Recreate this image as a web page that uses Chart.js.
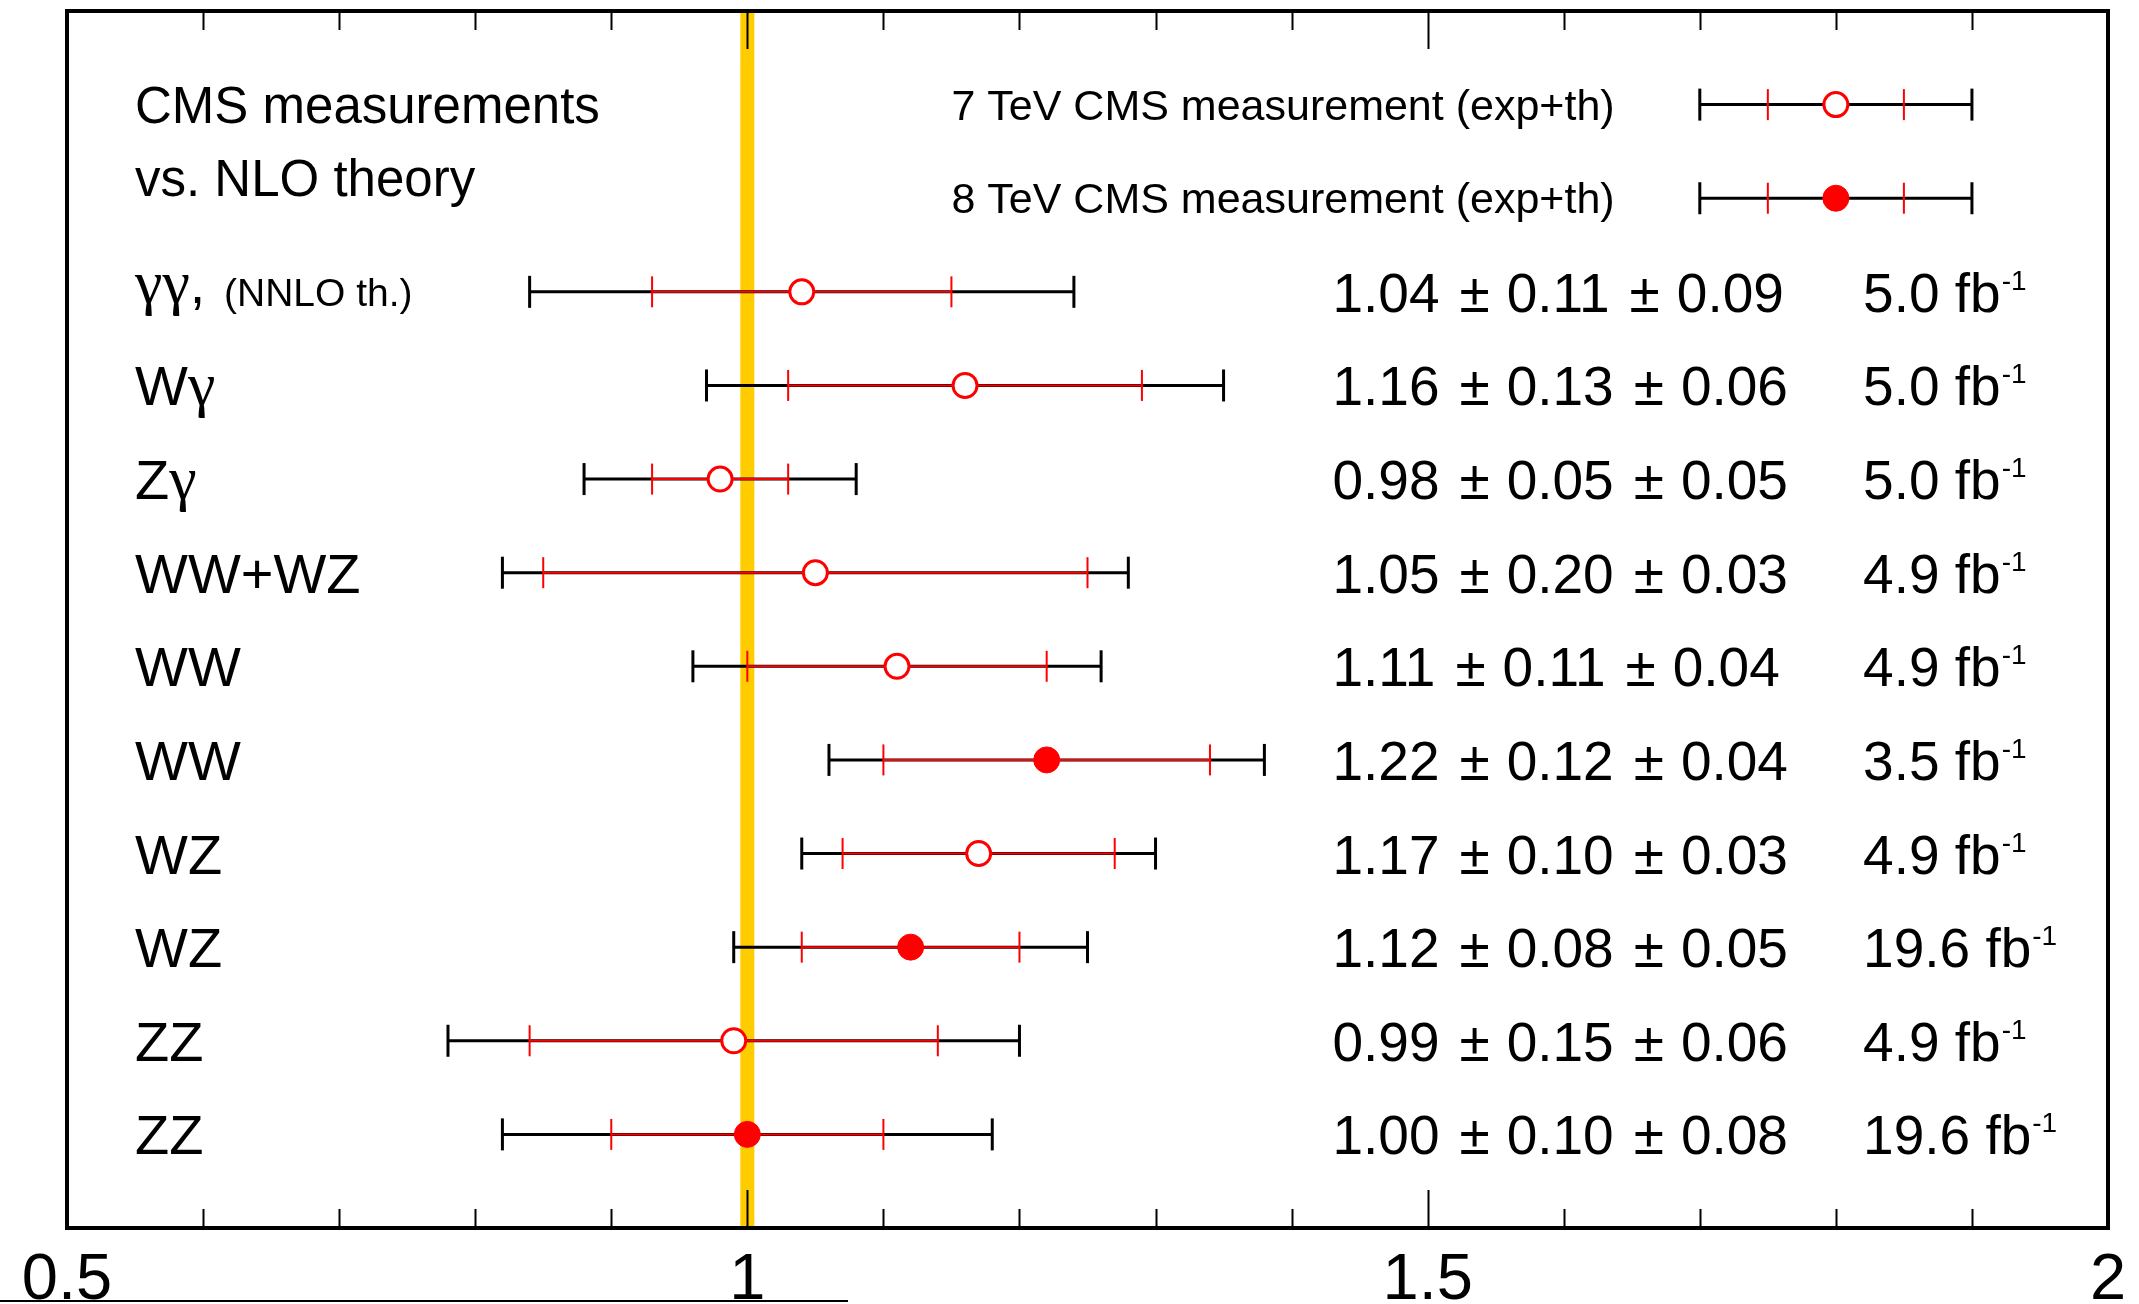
<!DOCTYPE html>
<html>
<head>
<meta charset="utf-8">
<title>CMS measurements vs. NLO theory</title>
<script src="https://cdn.jsdelivr.net/npm/chart.js@4/dist/chart.umd.min.js"></script>
<style>
  html, body { margin: 0; padding: 0; background: #fff; overflow: hidden; }
  #wrap { position: relative; width: 2139px; height: 1304px; }
</style>
</head>
<body>
<div id="wrap"><canvas id="chart"></canvas></div>
<script>
// ratio of measured cross section to theory, rows from top to bottom
const processes = ['γγ,', 'Wγ', 'Zγ', 'WW+WZ', 'WW', 'WW', 'WZ', 'WZ', 'ZZ', 'ZZ'];
const notes = ['(NNLO th.)', '', '', '', '', '', '', '', '', ''];
const energies = [7, 7, 7, 7, 7, 8, 7, 8, 7, 8];
const ratios = [1.04, 1.16, 0.98, 1.05, 1.11, 1.22, 1.17, 1.12, 0.99, 1.00];
const expErrors = [0.11, 0.13, 0.05, 0.20, 0.11, 0.12, 0.10, 0.08, 0.15, 0.10];
const thErrors = [0.09, 0.06, 0.05, 0.03, 0.04, 0.04, 0.03, 0.05, 0.06, 0.08];
const lumis = ['5.0', '5.0', '5.0', '4.9', '4.9', '3.5', '4.9', '19.6', '4.9', '19.6'];

// legend entries and their sample error bars
const legendLabels = ['7 TeV CMS measurement (exp+th)', '8 TeV CMS measurement (exp+th)'];
const legendEnergies = [7, 8];
const legendCentre = 1.8;
const legendExp = 0.05;
const legendTotal = 0.1;

const xTickLabels = ['0.5', '1', '1.5', '2'];
const theoryRatio = 1;

const SANS = '"Liberation Sans", Arial, Helvetica, sans-serif';
const SERIF = '"Liberation Serif", "Times New Roman", serif';
const RED = '#ff0000';
const BAND = 'rgb(255, 204, 0)';

// legend rows sit at 0 and 1, measurements start at 2
const rowOf = i => i + legendLabels.length;

const totalBars = [];
const expBars = [];
const legendExpCaps = [];
const open7 = [];
const filled8 = [];

legendLabels.forEach((label, r) => {
  totalBars.push({x: legendCentre - legendTotal, y: r}, {x: legendCentre + legendTotal, y: r}, {x: legendCentre, y: null});
  legendExpCaps.push({x: legendCentre - legendExp, y: r}, {x: legendCentre + legendExp, y: r});
  (legendEnergies[r] === 7 ? open7 : filled8).push({x: legendCentre, y: r});
});

ratios.forEach((c, i) => {
  const r = rowOf(i);
  const tot = expErrors[i] + thErrors[i];
  totalBars.push({x: c - tot, y: r}, {x: c + tot, y: r}, {x: c, y: null});
  expBars.push({x: c - expErrors[i], y: r}, {x: c + expErrors[i], y: r}, {x: c, y: null});
  (energies[i] === 7 ? open7 : filled8).push({x: c, y: r});
});

const isMajor = v => Math.abs(v * 2 - Math.round(v * 2)) < 1e-6;

// draws text, switching to a serif face for greek letters
function drawMixed(ctx, text, x, y, size) {
  for (const ch of text) {
    const greek = /[\u0370-\u03ff]/.test(ch);
    ctx.font = greek ? `${Math.round(size * 1.1)}px ${SERIF}` : `${size}px ${SANS}`;
    ctx.fillText(ch, x, y);
    x += ctx.measureText(ch).width;
  }
  return x;
}

// "a ± b ± c" with the wider gaps around the ± signs
function drawValue(ctx, parts, x, y) {
  parts.forEach((p, k) => {
    if (k > 0) {
      x += 20;
      ctx.fillText('±', x, y);
      x += ctx.measureText('±').width + 17;
    }
    ctx.fillText(p, x, y);
    x += ctx.measureText(p).width;
  });
}

const decor = {
  id: 'decor',
  afterDraw(chart) {
    const {ctx, chartArea: a, scales: {x, y}} = chart;
    ctx.save();
    ctx.strokeStyle = '#000';
    ctx.fillStyle = '#000';

    // ticks pointing into the frame, top and bottom
    ctx.lineWidth = 2;
    x.ticks.forEach(t => {
      if (t.value <= x.min + 1e-6 || t.value >= x.max - 1e-6) return;
      const px = Math.round(x.getPixelForValue(t.value)) + 0.5;
      const len = isMajor(t.value) ? 38 : 19;
      ctx.beginPath();
      ctx.moveTo(px, a.bottom);
      ctx.lineTo(px, a.bottom - len);
      ctx.moveTo(px, a.top);
      ctx.lineTo(px, a.top + len);
      ctx.stroke();
    });

    ctx.lineWidth = 4;
    ctx.strokeRect(a.left, a.top, a.right - a.left, a.bottom - a.top);

    // axis numbers under the frame
    ctx.font = `65px ${SANS}`;
    ctx.textAlign = 'center';
    ctx.textBaseline = 'alphabetic';
    xTickLabels.forEach(s => {
      ctx.fillText(s, x.getPixelForValue(parseFloat(s)), a.bottom + 71);
    });

    // rule under the left axis labels
    ctx.lineWidth = 2;
    ctx.beginPath();
    ctx.moveTo(0, 1301);
    ctx.lineTo(848, 1301);
    ctx.stroke();

    ctx.textAlign = 'left';
    const labelX = x.getPixelForValue(0.55);

    ctx.font = `51px ${SANS}`;
    ctx.fillText('CMS measurements', labelX, y.getPixelForValue(0) + 18);
    ctx.fillText('vs. NLO theory', labelX, y.getPixelForValue(0.78) + 18);

    ctx.font = `43px ${SANS}`;
    legendLabels.forEach((label, r) => {
      ctx.fillText(label, x.getPixelForValue(1.15), y.getPixelForValue(r) + 15);
    });

    const valueX = x.getPixelForValue(1.43);
    const lumiX = x.getPixelForValue(1.82);
    processes.forEach((name, i) => {
      const py = y.getPixelForValue(rowOf(i));
      // the row carrying a note is set a little higher
      drawMixed(ctx, name, labelX, py + (notes[i] ? 11 : 20), 56);
      if (notes[i]) {
        ctx.font = `39px ${SANS}`;
        ctx.fillText(notes[i], labelX + 89, py + 14);
      }
      ctx.font = `55px ${SANS}`;
      drawValue(ctx, [ratios[i], expErrors[i], thErrors[i]].map(v => v.toFixed(2)), valueX, py + 20);
      const lumi = `${lumis[i]} fb`;
      ctx.fillText(lumi, lumiX, py + 20);
      const w = ctx.measureText(lumi).width;
      ctx.font = `28px ${SANS}`;
      ctx.fillText('-1', lumiX + w + 1, py - 2);
    });
    ctx.restore();
  }
};

new Chart(document.getElementById('chart'), {
  type: 'scatter',
  data: {
    datasets: [
      {
        label: '8 TeV',
        data: filled8,
        order: 1,
        pointStyle: 'circle',
        pointRadius: 13,
        pointBackgroundColor: RED,
        pointBorderColor: RED,
        pointBorderWidth: 1,
      },
      {
        label: '7 TeV',
        data: open7,
        order: 1,
        pointStyle: 'circle',
        pointRadius: 12,
        pointBackgroundColor: '#fff',
        pointBorderColor: RED,
        pointBorderWidth: 3,
      },
      {
        label: 'legend exp caps',
        data: legendExpCaps,
        order: 2,
        pointStyle: 'line',
        pointRotation: 90,
        pointRadius: 15.5,
        pointBorderColor: RED,
        pointBorderWidth: 2,
      },
      {
        label: 'exp',
        data: expBars,
        order: 3,
        showLine: true,
        spanGaps: false,
        borderColor: RED,
        borderWidth: 2,
        pointStyle: 'line',
        pointRotation: 90,
        pointRadius: 15.5,
        pointBorderColor: RED,
        pointBorderWidth: 2,
      },
      {
        label: 'exp+th',
        data: totalBars,
        order: 4,
        showLine: true,
        spanGaps: false,
        borderColor: '#000',
        borderWidth: 3,
        pointStyle: 'line',
        pointRotation: 90,
        pointRadius: 16,
        pointBorderColor: '#000',
        pointBorderWidth: 3,
      },
      {
        label: 'theory',
        data: [{x: theoryRatio, y: -1}, {x: theoryRatio, y: 12}],
        order: 5,
        showLine: true,
        borderColor: BAND,
        borderWidth: 14,
        pointRadius: 0,
      },
    ]
  },
  options: {
    responsive: true,
    maintainAspectRatio: false,
    animation: false,
    events: [],
    layout: {autoPadding: false, padding: {left: 67, right: 31, top: 11, bottom: 76}},
    plugins: {
      legend: {display: false},
      tooltip: {enabled: false},
    },
    scales: {
      x: {
        type: 'linear',
        min: 0.5,
        max: 2,
        border: {display: false},
        grid: {display: false, drawTicks: false},
        ticks: {display: false, stepSize: 0.1, maxTicksLimit: 20, autoSkip: false}
      },
      y: {
        type: 'linear',
        min: -1,
        max: 12,
        reverse: true,
        display: false,
      }
    }
  },
  plugins: [decor]
});
</script>
</body>
</html>
